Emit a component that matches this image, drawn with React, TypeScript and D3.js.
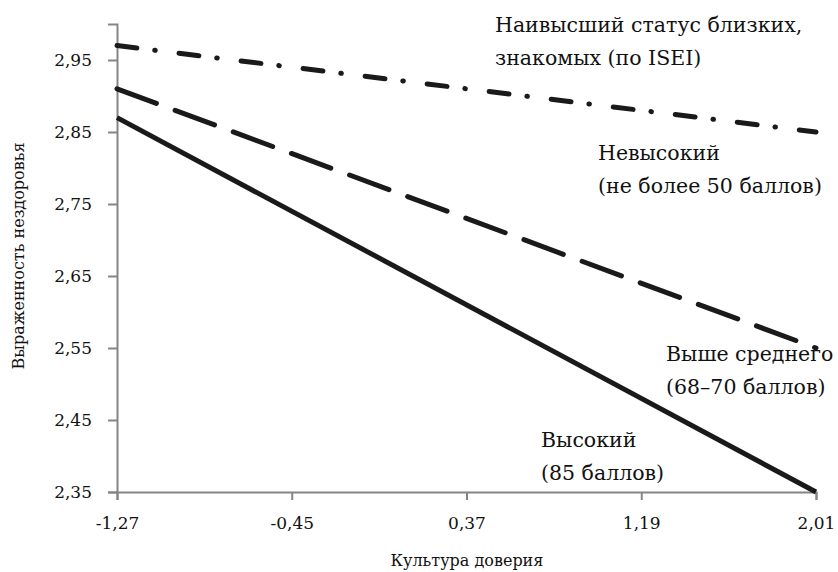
import { useEffect, useRef } from 'react';
import * as d3 from 'd3';

const xTicks = [-1.27, -0.45, 0.37, 1.19, 2.01];
const yTicks = [2.35, 2.45, 2.55, 2.65, 2.75, 2.85, 2.95];

const seriesNames = ['Невысокий', 'Выше среднего', 'Высокий'];
const lowValues = [2.97, 2.85];
const aboveAvgValues = [2.91, 2.55];
const highValues = [2.87, 2.35];

const labels = [
  { lines: ['Наивысший статус близких,', 'знакомых (по ISEI)'], x: 495, y: 32 },
  { lines: ['Невысокий', '(не более 50 баллов)'], x: 598, y: 160 },
  { lines: ['Выше среднего', '(68–70 баллов)'], x: 666, y: 361 },
  { lines: ['Высокий', '(85 баллов)'], x: 541, y: 447 },
];

const W = 838;
const H = 572;
const FONT = '"DejaVu Serif", "Liberation Serif", serif';

// comma decimals, plain hyphen for negatives
const fmt = (d: number) => d3.format('.2f')(d).replace('.', ',').replace('−', '-');

const App = () => {
  const ref = useRef<SVGSVGElement>(null);

  useEffect(() => {
    const svg = d3.select(ref.current);
    svg.selectAll('*').remove();

    const x = d3.scaleLinear().domain([-1.27, 2.01]).range([117, 816]);
    const y = d3.scaleLinear().domain([2.35, 3.0]).range([492, 24]);

    const axisColor = '#858585';

    // y axis
    const gy = svg.append('g').attr('transform', 'translate(117,0)');
    gy.call(
      d3
        .axisLeft(y)
        .tickValues(yTicks)
        .tickSize(9)
        .tickPadding(16)
        .tickFormat((d) => fmt(d as number))
    );
    gy.select('.domain').attr('stroke', axisColor).attr('stroke-width', 2);
    gy.selectAll('.tick line').attr('stroke', axisColor).attr('stroke-width', 2);
    gy.selectAll('.tick text')
      .attr('fill', '#111')
      .style('font-family', FONT)
      .style('font-size', '17px');

    // x axis
    const gx = svg.append('g').attr('transform', 'translate(0,492)');
    gx.call(
      d3
        .axisBottom(x)
        .tickValues(xTicks)
        .tickSize(8)
        .tickPadding(17)
        .tickFormat((d) => fmt(d as number))
    );
    gx.select('.domain').attr('stroke', axisColor).attr('stroke-width', 2);
    gx.selectAll('.tick line').attr('stroke', axisColor).attr('stroke-width', 2);
    gx.selectAll('.tick text')
      .attr('fill', '#111')
      .style('font-family', FONT)
      .style('font-size', '17px');

    // axis titles
    svg
      .append('text')
      .attr('x', 467)
      .attr('y', 566)
      .attr('text-anchor', 'middle')
      .attr('fill', '#111')
      .style('font-family', FONT)
      .style('font-size', '16px')
      .text('Культура доверия');

    svg
      .append('text')
      .attr('transform', 'translate(24,256) rotate(-90)')
      .attr('text-anchor', 'middle')
      .attr('fill', '#111')
      .style('font-family', FONT)
      .style('font-size', '16px')
      .text('Выраженность нездоровья');

    // lines
    const ends = [xTicks[0], xTicks[xTicks.length - 1]];
    const series = [
      { name: seriesNames[0], values: lowValues, dash: '20,18,0.5,24' },
      { name: seriesNames[1], values: aboveAvgValues, dash: '42,20' },
      { name: seriesNames[2], values: highValues, dash: null },
    ];
    const line = d3
      .line<number>()
      .x((_, i) => x(ends[i]))
      .y((d) => y(d));

    series.forEach((s) => {
      svg
        .append('path')
        .datum(s.values)
        .attr('d', line)
        .attr('fill', 'none')
        .attr('stroke', '#1a1a1a')
        .attr('stroke-width', 5)
        .attr('stroke-linecap', s.dash ? 'round' : 'butt')
        .attr('stroke-dasharray', s.dash);
    });

    // annotations
    labels.forEach((l) => {
      const t = svg
        .append('text')
        .attr('x', l.x)
        .attr('y', l.y)
        .attr('fill', '#111')
        .style('font-family', FONT)
        .style('font-size', '20.5px');
      l.lines.forEach((ln, i) => {
        t.append('tspan')
          .attr('x', l.x)
          .attr('dy', i === 0 ? 0 : 33)
          .text(ln);
      });
    });
  }, []);

  return (
    <svg
      ref={ref}
      width={W}
      height={H}
      style={{ display: 'block', position: 'absolute', left: 0, top: 0, background: '#fff' }}
    />
  );
};

export default App;
